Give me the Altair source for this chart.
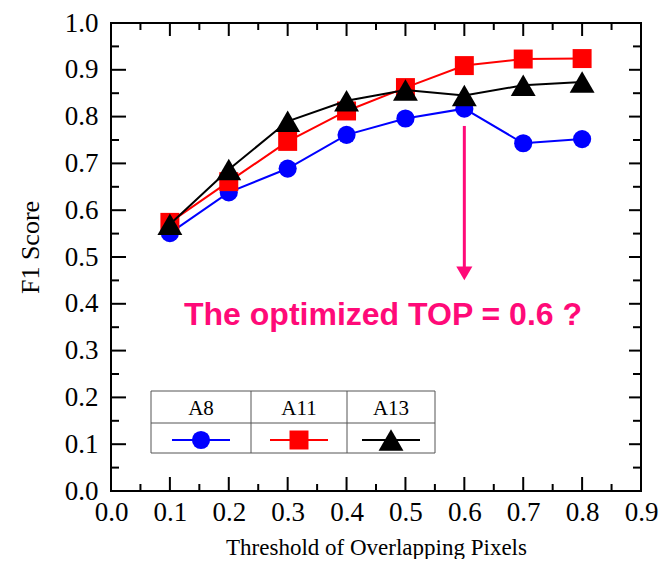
import altair as alt
import pandas as pd

# ---------------- data ----------------
thresholds = [0.1, 0.2, 0.3, 0.4, 0.5, 0.6, 0.7, 0.8]
a8 = [0.551, 0.638, 0.689, 0.761, 0.796, 0.817, 0.743, 0.752]
a11 = [0.574, 0.661, 0.747, 0.812, 0.862, 0.909, 0.923, 0.924]
a13 = [0.570, 0.687, 0.790, 0.834, 0.857, 0.845, 0.867, 0.874]

series_names = ["A8", "A11", "A13"]
series_values = [a8, a11, a13]

x_tick_labels = [0.0, 0.1, 0.2, 0.3, 0.4, 0.5, 0.6, 0.7, 0.8, 0.9]
y_tick_labels = [0.0, 0.1, 0.2, 0.3, 0.4, 0.5, 0.6, 0.7, 0.8, 0.9, 1.0]
x_major = [0.1, 0.2, 0.3, 0.4, 0.5, 0.6, 0.7, 0.8]
x_minor = [0.05, 0.15, 0.25, 0.35, 0.45, 0.55, 0.65, 0.75, 0.85]
y_major = [0.1, 0.2, 0.3, 0.4, 0.5, 0.6, 0.7, 0.8, 0.9]
y_minor = [0.05, 0.15, 0.25, 0.35, 0.45, 0.55, 0.65, 0.75, 0.85, 0.95]

annotation_text = ["The optimized TOP = 0.6 ?"]
annotation_x = [0.124]
annotation_y = [0.377]
arrow_x = [0.6]
arrow_y_top = [0.78]
arrow_y_head = [0.465]

# ---------------- styles / layout ----------------
W, H = 530, 468
series_colors = ["#0000ff", "#ff0000", "#000000"]
series_shapes = ["circle", "square", "triangle-up"]
series_sizes = [330, 360, 620]
magenta = "#ff0a78"
serif = "Liberation Serif, Times New Roman, serif"
sans = "Liberation Sans, Arial, sans-serif"

xs = alt.Scale(domain=[0, 0.9], nice=False, zero=False)
ys = alt.Scale(domain=[0, 1.0], nice=False, zero=False)

xa = alt.Axis(
    values=x_tick_labels, format=".1f", ticks=False, domain=False, grid=False,
    labelFont=serif, labelFontSize=27, labelColor="black", labelPadding=8,
    labelFlush=False, labelOverlap=False,
    title="Threshold of Overlapping Pixels", titleFont=serif, titleFontSize=23,
    titleFontWeight="normal", titleColor="black", titlePadding=11)
ya = alt.Axis(
    values=y_tick_labels, format=".1f", ticks=False, domain=False, grid=False,
    labelFont=serif, labelFontSize=27, labelColor="black", labelPadding=13,
    labelFlush=False, labelOverlap=False,
    title="F1 Score", titleFont=serif, titleFontSize=26,
    titleFontWeight="normal", titleColor="black", titlePadding=21, titleY=224)


def X(field):
    return alt.X(field, scale=xs, axis=xa)


def Y(field):
    return alt.Y(field, scale=ys, axis=ya)


layers = []

# inward ticks
def xticks(vals, y1, y2):
    return alt.Chart(pd.DataFrame({"v": vals})).mark_rule(color="black", strokeWidth=2).encode(
        x=X("v:Q"), y=alt.value(y1), y2=alt.value(y2))


def yticks(vals, x1, x2):
    return alt.Chart(pd.DataFrame({"v": vals})).mark_rule(color="black", strokeWidth=2).encode(
        y=Y("v:Q"), x=alt.value(x1), x2=alt.value(x2))


layers += [
    xticks(x_major, H, H - 14), xticks(x_minor, H, H - 7),
    xticks(x_major, 0, 13), xticks(x_minor, 0, 7),
    yticks(y_major, 0, 15), yticks(y_minor, 0, 8),
    yticks(y_major, W, W - 12), yticks(y_minor, W, W - 8),
]

# series: line then markers, in order A8, A11, A13
for name, vals, col, shp, sz in zip(series_names, series_values, series_colors, series_shapes, series_sizes):
    df = pd.DataFrame({"x": thresholds, "y": vals})
    layers.append(alt.Chart(df).mark_line(color=col, strokeWidth=2).encode(
        x=X("x:Q"), y=Y("y:Q")))
    layers.append(alt.Chart(df).mark_point(filled=True, opacity=1, color=col, shape=shp, size=sz).encode(
        x=X("x:Q"), y=Y("y:Q")))

# arrow annotation
arrow_df = pd.DataFrame({"x": arrow_x, "y1": arrow_y_top, "y2": arrow_y_head})
layers.append(alt.Chart(arrow_df).mark_rule(color=magenta, strokeWidth=3).encode(
    x=X("x:Q"), y=Y("y1:Q"), y2="y2:Q"))
layers.append(alt.Chart(arrow_df).mark_point(filled=True, opacity=1, color=magenta,
                                             shape="triangle-down", size=260).encode(
    x=X("x:Q"), y=Y("y2:Q")))

ann_df = pd.DataFrame({"x": annotation_x, "y": annotation_y, "t": annotation_text})
layers.append(alt.Chart(ann_df).mark_text(font=sans, fontSize=32, fontWeight="bold", color=magenta,
                                          align="left", baseline="middle").encode(
    x=X("x:Q"), y=Y("y:Q"), text="t:N"))

# legend table (pixel layout inside plot area)
L_left, L_right, L_top, L_bottom = 40, 324, 368, 430
L_mid = 400
col_edges = [L_left, 140, 236, L_right]
col_centers = [(col_edges[i] + col_edges[i + 1]) / 2 for i in range(3)]
sym_y = 417
head_y = 386
dummy = pd.DataFrame({"a": [0]})

layers.append(alt.Chart(dummy).mark_rect(fill="white", stroke="#555555", strokeWidth=1).encode(
    x=alt.value(L_left), x2=alt.value(L_right), y=alt.value(L_top), y2=alt.value(L_bottom)))
layers.append(alt.Chart(dummy).mark_rule(color="#555555", strokeWidth=1).encode(
    x=alt.value(L_left), x2=alt.value(L_right), y=alt.value(L_mid)))
for xe in col_edges[1:3]:
    layers.append(alt.Chart(dummy).mark_rule(color="#555555", strokeWidth=1).encode(
        x=alt.value(xe), y=alt.value(L_top), y2=alt.value(L_bottom)))

for name, cx, col, shp, sz in zip(series_names, col_centers, series_colors, series_shapes, series_sizes):
    ldf = pd.DataFrame({"name": [name]})
    layers.append(alt.Chart(ldf).mark_text(font=serif, fontSize=21, color="black",
                                           align="center", baseline="middle").encode(
        x=alt.value(cx), y=alt.value(head_y), text="name:N"))
    layers.append(alt.Chart(ldf).mark_rule(color=col, strokeWidth=2).encode(
        x=alt.value(cx - 29), x2=alt.value(cx + 29), y=alt.value(sym_y)))
    layers.append(alt.Chart(ldf).mark_point(filled=True, opacity=1, color=col, shape=shp, size=sz).encode(
        x=alt.value(cx), y=alt.value(sym_y)))

chart = alt.layer(*layers).properties(
    width=W, height=H,
    autosize=alt.AutoSizeParams(type="none"),
    padding={"left": 103, "top": 15, "right": 21, "bottom": 68},
    background="white",
).configure_view(stroke="black", strokeWidth=2)

chart.save("out.html", embed_options={"renderer": "svg", "actions": False})
